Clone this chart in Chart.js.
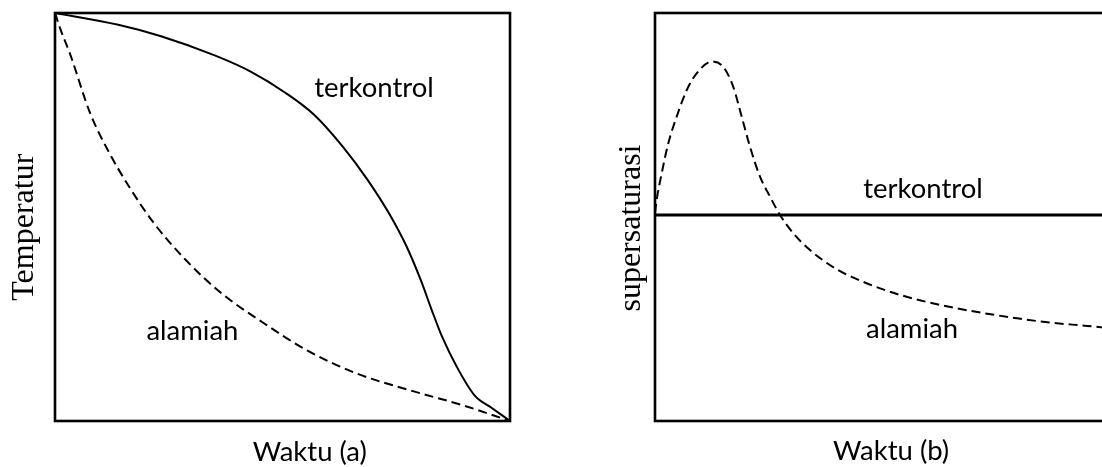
<!DOCTYPE html>
<html>
<head>
<meta charset="utf-8">
<script src="https://cdn.jsdelivr.net/npm/chart.js@4/dist/chart.umd.min.js"></script>
<style>
  html, body { margin: 0; padding: 0; background: #fff; overflow: hidden; width: 1102px; height: 467px; }
  .panel { position: absolute; top: 0; height: 467px; }
  #panelA { left: 0; width: 560px; }
  #panelB { left: 560px; width: 600px; }
</style>
</head>
<body>
<div class="panel" id="panelA"><canvas id="chartA" width="560" height="467"></canvas></div>
<div class="panel" id="panelB"><canvas id="chartB" width="600" height="467"></canvas></div>
<script>
// (a) Temperature against time, both axes normalised to 0..1
const timeTempControlled = [0, 0.139, 0.233, 0.351, 0.429, 0.507, 0.570, 0.632, 0.687, 0.734, 0.773, 0.804, 0.828, 0.851, 0.883, 0.922, 0.96, 1];
const tempControlled     = [1, 0.971, 0.943, 0.896, 0.857, 0.804, 0.750, 0.673, 0.591, 0.509, 0.427, 0.345, 0.272, 0.206, 0.133, 0.063, 0.032, 0];
const timeTempNatural    = [0, 0.011, 0.033, 0.077, 0.116, 0.163, 0.218, 0.288, 0.366, 0.460, 0.554, 0.664, 0.781, 0.898, 1];
const tempNatural        = [1, 0.963, 0.900, 0.755, 0.664, 0.574, 0.484, 0.394, 0.313, 0.239, 0.173, 0.116, 0.075, 0.038, 0];

// (b) Supersaturation against time
const timeSuperControlled = [0, 1];
const superControlled     = [0.505, 0.505];
const timeSuperNatural    = [0, 0.0037, 0.0147, 0.0293, 0.0477, 0.0697, 0.0916, 0.1246, 0.150, 0.172, 0.1905, 0.2088, 0.2308, 0.2527, 0.2747, 0.304, 0.3407, 0.399, 0.435, 0.51, 0.582, 0.655, 0.73, 0.80, 0.87, 0.94, 1];
const superNatural        = [0.51, 0.542, 0.607, 0.681, 0.746, 0.811, 0.852, 0.881, 0.868, 0.819, 0.746, 0.672, 0.599, 0.550, 0.505, 0.460, 0.419, 0.372, 0.352, 0.319, 0.296, 0.278, 0.263, 0.251, 0.241, 0.234, 0.228];

// Text
const seriesNames = ['terkontrol', 'alamiah'];
const xTitles = ['Waktu (a)', 'Waktu (b)'];
const yTitles = ['Temperatur', 'supersaturasi'];

const SANS = '27.5px Lato, "Open Sans", sans-serif';
const SERIF = '32px "Liberation Serif", "DejaVu Serif", serif';

function pts(xs, ys) { return xs.map((x, i) => ({ x: x, y: ys[i] })); }

// Box around the plotting area
const framePlugin = {
  id: 'frame',
  afterDatasetsDraw(chart) {
    const { ctx, chartArea: a } = chart;
    ctx.save();
    ctx.lineWidth = 2.6;
    ctx.strokeStyle = '#000';
    ctx.strokeRect(a.left, a.top, a.right - a.left, a.bottom - a.top);
    ctx.restore();
  }
};

// Curve names and axis titles
const textPlugin = {
  id: 'texts',
  afterDraw(chart, args, opts) {
    const { ctx, chartArea: a, scales } = chart;
    ctx.save();
    ctx.fillStyle = '#000';
    ctx.textBaseline = 'alphabetic';
    ctx.textAlign = 'center';
    ctx.font = SANS;
    (opts.notes || []).forEach(n => {
      ctx.fillText(n.text, scales.x.getPixelForValue(n.x), scales.y.getPixelForValue(n.y));
    });
    // horizontal title
    ctx.fillText(opts.xTitle.text, scales.x.getPixelForValue(opts.xTitle.at), a.bottom + opts.xTitle.gap);
    // vertical title
    ctx.font = SERIF;
    ctx.translate(a.left - opts.yTitle.gap, scales.y.getPixelForValue(opts.yTitle.at));
    ctx.rotate(-Math.PI / 2);
    ctx.fillText(opts.yTitle.text, 0, 0);
    ctx.restore();
  }
};

function makeChart(id, padding, solid, dashed, solidWidth, texts) {
  return new Chart(document.getElementById(id), {
    type: 'line',
    data: {
      datasets: [
        {
          label: seriesNames[0], data: solid,
          borderColor: '#000', borderWidth: solidWidth,
          pointRadius: 0, fill: false, cubicInterpolationMode: 'monotone'
        },
        {
          label: seriesNames[1], data: dashed,
          borderColor: '#000', borderWidth: 2, borderDash: [9, 5],
          pointRadius: 0, fill: false, cubicInterpolationMode: 'monotone'
        }
      ]
    },
    options: {
      responsive: false,
      animation: false,
      layout: { padding: padding },
      scales: {
        x: { type: 'linear', min: 0, max: 1, display: false },
        y: { type: 'linear', min: 0, max: 1, display: false }
      },
      plugins: {
        legend: { display: false },
        tooltip: { enabled: false },
        texts: texts
      }
    },
    plugins: [framePlugin, textPlugin]
  });
}

makeChart('chartA',
  { left: 55, right: 50, top: 13, bottom: 46 },
  pts(timeTempControlled, tempControlled),
  pts(timeTempNatural, tempNatural),
  2,
  {
    notes: [
      { text: seriesNames[0], x: 0.701, y: 0.794 },
      { text: seriesNames[1], x: 0.302, y: 0.199 }
    ],
    xTitle: { text: xTitles[0], at: 0.56, gap: 40 },
    yTitle: { text: yTitles[0], at: 0.475, gap: 22 }
  });

makeChart('chartB',
  { left: 95, right: 50, top: 13, bottom: 46 },
  pts(timeSuperControlled, superControlled),
  pts(timeSuperNatural, superNatural),
  3,
  {
    notes: [
      { text: seriesNames[0], x: 0.589, y: 0.547 },
      { text: seriesNames[1], x: 0.565, y: 0.203 }
    ],
    xTitle: { text: xTitles[1], at: 0.519, gap: 39 },
    yTitle: { text: yTitles[1], at: 0.473, gap: 15 }
  });
</script>
</body>
</html>
